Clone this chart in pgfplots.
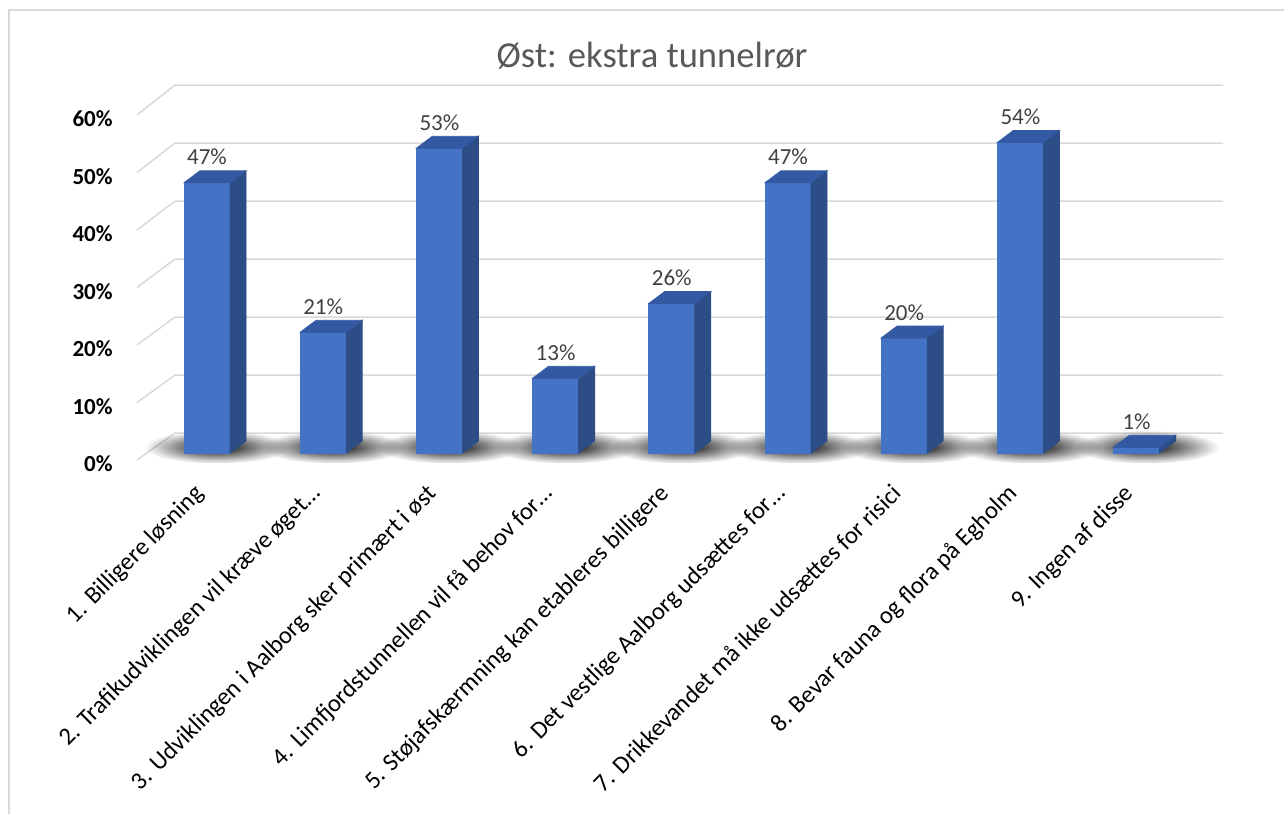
\documentclass[border=0pt]{standalone}
\usepackage{fontspec}
\setmainfont{Carlito}
\usepackage{pgfplots}
\usepackage{pgfplotstable}
\pgfplotsset{compat=1.18}
\usetikzlibrary{fadings}

\definecolor{barfront}{HTML}{4472C4}
\definecolor{barside}{HTML}{2C4D86}
\definecolor{bartop}{HTML}{3259A1}
\definecolor{gridc}{HTML}{D9D9D9}
\definecolor{titlec}{HTML}{595959}
\definecolor{labc}{HTML}{404040}

\tikzfading[name=softshadow, inner color=transparent!0, outer color=transparent!100]

\pgfplotstableread{
x y
1 47
2 21
3 53
4 13
5 26
6 47
7 20
8 54
9 1
}\datatable

\begin{document}
\begin{tikzpicture}
\useasboundingbox (0,0) rectangle (642pt,407pt);
% chart frame (left and top edges only)
\draw[gridc, line width=0.75pt] (4.5pt,0pt) -- (4.5pt,402pt) -- (642pt,402pt);
\node[anchor=base, text=titlec, font=\fontsize{18.3}{22}\selectfont] at (326pt,373pt) {Øst: ekstra tunnelrør};

\begin{axis}[
    at={(74.45pt,180.5pt)}, anchor=south west,
    scale only axis, width=522.9pt, height=172.5pt,
    xmin=0.5, xmax=9.5, ymin=0, ymax=60,
    clip=false,
    axis line style={draw=none},
    major tick length=0pt,
    /pgf/number format/assume math mode=true,
    xtick={1,...,9},
    xticklabels={
        1. Billigere løsning,
        2. Trafikudviklingen vil kræve øget…,
        3. Udviklingen i Aalborg sker primært i øst,
        4. Limfjordstunnellen vil få behov for…,
        5. Støjafskærmning kan etableres billigere,
        6. Det vestlige Aalborg udsættes for…,
        7. Drikkevandet må ikke udsættes for risici,
        8. Bevar fauna og flora på Egholm,
        9. Ingen af disse},
    xticklabel style={font=\fontsize{12.3}{14}\selectfont, inner sep=0pt,
        xshift=-7pt, yshift=-14.5pt, rotate=45, anchor=north east},
    ytick={0,10,...,60},
    yticklabels={0\%,10\%,20\%,30\%,40\%,50\%,60\%},
    yticklabel style={font=\bfseries\fontsize{11.5}{13}\selectfont, inner sep=0pt,
        anchor=east, xshift=-17.95pt, yshift=-5.5pt},
]
% perspective gridlines: short diagonal wall edge, then the back wall line
\pgfplotsinvokeforeach{0,10,...,60}{
    \draw[gridc, line width=0.75pt]
        ([yshift=-3.5pt]axis cs:0.3976,#1)
        -- ([yshift={(10+0.025*#1)*1pt}]axis cs:0.7246,#1)
        -- ([yshift={(10+0.025*#1)*1pt}]axis cs:9.744,#1);
}

% front faces and value labels
\addplot[ybar, bar width=23pt, fill=barfront, draw=none,
    nodes near coords={\pgfmathprintnumber{\pgfplotspointmeta}\%},
    every node near coord/.append style={font=\fontsize{11.5}{13}\selectfont,
        text=labc, anchor=base, yshift=9pt},
] table {\datatable};

% 3d look per bar: floor shadow, front face again on top of it, side and top faces
\addplot[scatter, only marks, mark=*, mark size=0pt,
    visualization depends on={rawy \as \ry},
    scatter/@pre marker code/.code={
        \pgfmathsetmacro\h{\ry*2.875}
        \fill[black, path fading=softshadow]
            (5pt,{(3-\h)*1pt}) ellipse [x radius=36pt, y radius=8pt];
        \fill[barfront] (-11.5pt,{-\h*1pt}) rectangle (11.5pt,0pt);
        \fill[barside] (11.5pt,0pt) -- (19.5pt,6pt)
            -- (19.5pt,{(6-\h)*1pt}) -- (11.5pt,{-\h*1pt}) -- cycle;
        \fill[bartop] (-11.5pt,0pt) -- (-3.5pt,6pt) -- (19.5pt,6pt) -- (11.5pt,0pt) -- cycle;
    },
    scatter/@post marker code/.code={},
] table {\datatable};
\end{axis}
\end{tikzpicture}
\end{document}
